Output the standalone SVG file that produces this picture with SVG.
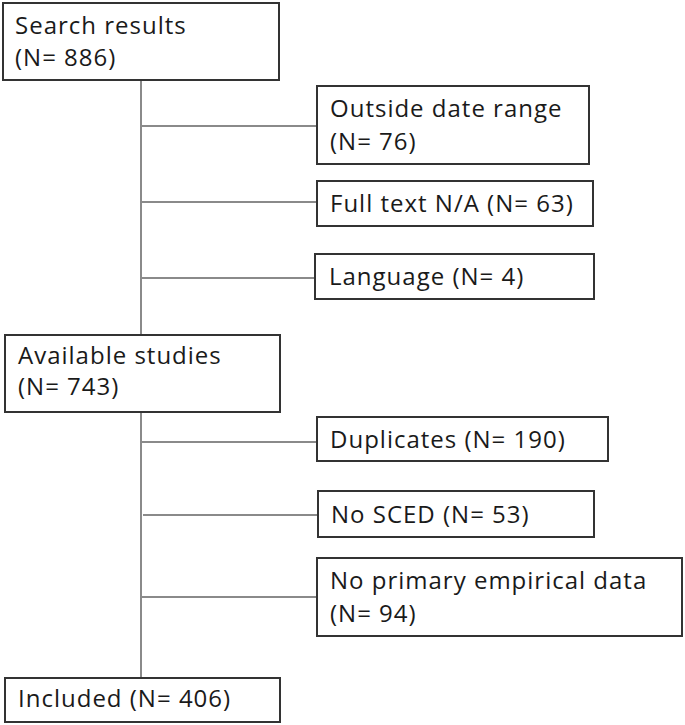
<svg xmlns="http://www.w3.org/2000/svg" width="685" height="725" viewBox="0 0 685 725">
<style>
.box{fill:#fff;stroke:#333;stroke-width:2}
.ln{stroke:#8a8a8a;stroke-width:2;fill:none}
text{font-family:"Open Sans","DejaVu Sans",sans-serif;font-size:24px;letter-spacing:1px;fill:#1a1a1a}
</style>
<rect width="685" height="725" fill="#fff"/>
<g id="connectors">
<line class="ln" x1="141" y1="80" x2="141" y2="335"/>
<line class="ln" x1="141" y1="412" x2="141" y2="678"/>
<line class="ln" x1="142" y1="126" x2="317" y2="126"/>
<line class="ln" x1="142" y1="202" x2="317" y2="202"/>
<line class="ln" x1="142" y1="278" x2="315" y2="278"/>
<line class="ln" x1="142" y1="442" x2="317" y2="442"/>
<line class="ln" x1="143" y1="515" x2="318" y2="515"/>
<line class="ln" x1="142" y1="597" x2="317" y2="597"/>
</g>
<g id="search">
<rect class="box" x="3" y="3" width="276" height="77"/>
<text x="15" y="34">Search results</text>
<text x="15" y="66">(N= 886)</text>
</g>
<g id="outside">
<rect class="box" x="317" y="86" width="272" height="78"/>
<text x="330" y="117">Outside date range</text>
<text x="330" y="150">(N= 76)</text>
</g>
<g id="fulltext">
<rect class="box" x="317" y="181" width="276" height="45"/>
<text x="330" y="212">Full text N/A (N= 63)</text>
</g>
<g id="language">
<rect class="box" x="315" y="254" width="279" height="45"/>
<text x="329" y="285">Language (N= 4)</text>
</g>
<g id="available">
<rect class="box" x="5" y="335" width="275" height="77"/>
<text x="18" y="364">Available studies</text>
<text x="18" y="395">(N= 743)</text>
</g>
<g id="duplicates">
<rect class="box" x="317" y="417" width="291" height="44"/>
<text x="330" y="448">Duplicates (N= 190)</text>
</g>
<g id="nosced">
<rect class="box" x="318" y="491" width="276" height="46"/>
<text x="331" y="523">No SCED (N= 53)</text>
</g>
<g id="noprimary">
<rect class="box" x="317" y="558" width="365" height="78"/>
<text x="330" y="589">No primary empirical data</text>
<text x="330" y="622">(N= 94)</text>
</g>
<g id="included">
<rect class="box" x="5" y="678" width="275" height="44"/>
<text x="18" y="707">Included (N= 406)</text>
</g>
</svg>
